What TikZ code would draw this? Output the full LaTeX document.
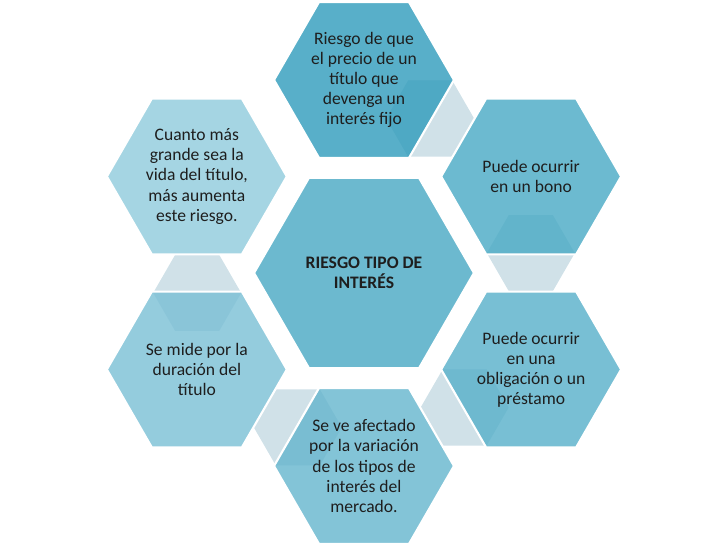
\documentclass[tikz,border=0pt]{standalone}
\usepackage{fontspec}
\setmainfont{Carlito}
\usetikzlibrary{shapes.geometric}
\definecolor{linkfill}{RGB}{208,225,232}
\definecolor{hexa}{RGB}{46,155,187}
\definecolor{hexb}{RGB}{71,169,196}
\definecolor{hexc}{RGB}{86,175,201}
\definecolor{hexd}{RGB}{100,181,205}
\definecolor{hexe}{RGB}{121,191,213}
\definecolor{hexf}{RGB}{143,203,220}
\definecolor{hexcore}{RGB}{108,185,207}
\definecolor{txtgray}{RGB}{30,30,30}
\begin{document}
\begin{tikzpicture}[x=0.02cm,y=0.02cm,
      hexcell/.style={regular polygon, regular polygon sides=6, minimum size=3.6cm, inner sep=0pt,
        draw=white, line width=1.2pt, fill opacity=0.8, text opacity=1, align=center,
        text=txtgray, font=\fontsize{10}{11.4}\selectfont},
      linkcell/.style={regular polygon, regular polygon sides=6, minimum size=1.76cm, inner sep=0pt, fill=linkfill}
    ]
      \useasboundingbox (-364,-273) rectangle (364,273);
      \foreach \a [count=\i] in {90,30,-30,-90,210}{
        \node[linkcell] (link\i) at (\a-23.2:168) {};
      }
      \node[hexcell, fill=hexa] (precio) at (90:193) {Riesgo de que\\el precio de un\\título que\\devenga un\\interés fijo};
      \node[hexcell, fill=hexb] (bono) at (30:193) {Puede ocurrir\\en un bono};
      \node[hexcell, fill=hexc] (prestamo) at (-30:193) {Puede ocurrir\\en una\\obligación o un\\préstamo};
      \node[hexcell, fill=hexd] (mercado) at (-90:193) {Se ve afectado\\por la variación\\de los tipos de\\interés del\\mercado.};
      \node[hexcell, fill=hexe] (duracion) at (210:193) {Se mide por la\\duración del\\título};
      \node[hexcell, fill=hexf] (vida) at (150:193) {Cuanto más\\grande sea la\\vida del título,\\más aumenta\\este riesgo.};
      \node[hexcell, fill=hexcore, fill opacity=1, minimum size=4.4cm,
        font=\fontsize{10}{11.4}\selectfont\bfseries] (riesgo) at (0,0) {RIESGO TIPO DE\\INTERÉS};
    \end{tikzpicture}
\end{document}
